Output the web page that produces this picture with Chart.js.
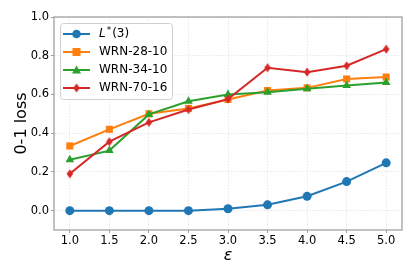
<!DOCTYPE html>
<html lang="en">
<head>
<meta charset="UTF-8">
<title>0-1 loss vs epsilon</title>
<script src="https://cdn.jsdelivr.net/npm/chart.js"></script>
<style>html,body{margin:0;padding:0;background:#fff}</style>
</head>
<body>
<canvas id="myChart" width="415" height="277"></canvas>
<script>
const epsilons = [1.0, 1.5, 2.0, 2.5, 3.0, 3.5, 4.0, 4.5, 5.0];
const lStar   = [0.0, 0.0, 0.0, 0.0, 0.01, 0.03, 0.074, 0.15, 0.247];
const wrn2810 = [0.334, 0.42, 0.50, 0.528, 0.574, 0.62, 0.634, 0.68, 0.69];
const wrn3410 = [0.263, 0.31, 0.497, 0.565, 0.60, 0.612, 0.63, 0.646, 0.662];
const wrn7016 = [0.19, 0.356, 0.456, 0.522, 0.576, 0.738, 0.715, 0.748, 0.834];
const xTicks = [1.0, 1.5, 2.0, 2.5, 3.0, 3.5, 4.0, 4.5, 5.0];
const yTicks = [0.0, 0.2, 0.4, 0.6, 0.8, 1.0];

const FONT = "'DejaVu Sans', sans-serif";

// thin diamond marker like matplotlib 'd'
function thinDiamond(color) {
    const c = document.createElement('canvas');
    c.width = 8; c.height = 10;
    const g = c.getContext('2d');
    g.fillStyle = color;
    g.beginPath();
    g.moveTo(4, 0.5); g.lineTo(7.3, 5); g.lineTo(4, 9.5); g.lineTo(0.7, 5);
    g.closePath();
    g.fill();
    return c;
}
const redDiamond = thinDiamond('#d62728');

function pts(ys) { return epsilons.map((x, i) => ({x: x, y: ys[i]})); }

const series = [
    {label: 'L*(3)', data: lStar, color: '#1f77b4', style: 'circle', r: 4.5, order: 3},
    {label: 'WRN-28-10', data: wrn2810, color: '#ff7f0e', style: 'rect', r: 5, order: 2},
    {label: 'WRN-34-10', data: wrn3410, color: '#2ca02c', style: 'triangle', r: 5, order: 1},
    {label: 'WRN-70-16', data: wrn7016, color: '#d62728', style: redDiamond, r: 4, order: 0}
];

const frameLegend = {
    id: 'frameLegend',
    beforeDatasetsDraw(chart) {
        const {ctx, chartArea: a} = chart;
        ctx.save();
        ctx.strokeStyle = '#a0a0a0';
        ctx.lineWidth = 1.3;
        ctx.strokeRect(a.left, a.top, a.right - a.left, a.bottom - a.top);
        ctx.restore();
    },
    afterDraw(chart) {
        const {ctx, chartArea: a} = chart;
        const bx = a.left + 6, by = a.top + 6, bw = 112, bh = 76;
        ctx.save();
        ctx.fillStyle = 'rgba(255,255,255,0.85)';
        ctx.strokeStyle = '#d0d0d0';
        ctx.lineWidth = 1;
        ctx.beginPath();
        ctx.roundRect(bx + 0.5, by + 0.5, bw, bh, 3);
        ctx.fill();
        ctx.stroke();
        series.forEach((s, i) => {
            const y = by + 11 + i * 18;
            const x0 = bx + 3, x1 = bx + 30, xm = (x0 + x1) / 2;
            ctx.strokeStyle = s.color;
            ctx.fillStyle = s.color;
            ctx.lineWidth = 2;
            ctx.beginPath(); ctx.moveTo(x0, y); ctx.lineTo(x1, y); ctx.stroke();
            ctx.beginPath();
            if (s.style === 'circle') {
                ctx.arc(xm, y, 4.3, 0, Math.PI * 2);
                ctx.fill();
            } else if (s.style === 'rect') {
                ctx.fillRect(xm - 4, y - 4, 8, 8);
            } else if (s.style === 'triangle') {
                ctx.moveTo(xm, y - 4.5); ctx.lineTo(xm + 4.5, y + 3.5); ctx.lineTo(xm - 4.5, y + 3.5);
                ctx.closePath(); ctx.fill();
            } else {
                ctx.drawImage(s.style, xm - 4, y - 5);
            }
            ctx.fillStyle = '#000';
            ctx.textBaseline = 'middle';
            ctx.textAlign = 'left';
            let tx = bx + 39;
            if (i === 0) {
                ctx.font = 'italic 12px ' + FONT;
                ctx.fillText('L', tx, y);
                tx += ctx.measureText('L').width + 1;
                ctx.font = '9px ' + FONT;
                ctx.fillText('*', tx, y - 3);
                tx += ctx.measureText('*').width + 1;
                ctx.font = '12px ' + FONT;
                ctx.fillText('(3)', tx, y);
            } else {
                ctx.font = '12px ' + FONT;
                ctx.fillText(s.label, tx, y);
            }
        });
        ctx.restore();
    }
};

const gridOpts = {color: '#e2e2e2', lineWidth: 0.8, tickLength: 3, tickColor: '#a0a0a0', tickWidth: 1};

new Chart(document.getElementById('myChart').getContext('2d'), {
    type: 'line',
    data: {
        datasets: series.map(s => ({
            label: s.label,
            data: pts(s.data),
            borderColor: s.color,
            backgroundColor: s.color,
            borderWidth: 2,
            pointStyle: s.style,
            pointRadius: s.r,
            pointHoverRadius: s.r,
            pointBorderWidth: 0,
            tension: 0,
            order: s.order,
            clip: false
        }))
    },
    options: {
        responsive: false,
        animation: false,
        layout: {padding: {left: 0, right: 13, top: 17, bottom: 0}},
        plugins: {legend: {display: false}, tooltip: {enabled: false}},
        scales: {
            x: {
                type: 'linear',
                min: 0.8, max: 5.2,
                afterBuildTicks: sc => { sc.ticks = xTicks.map(v => ({value: v})); },
                afterFit: sc => { sc.height = 47; },
                grid: gridOpts,
                border: {display: false, dash: [1.5, 1.5]},
                ticks: {color: '#000', padding: 1, font: {family: FONT, size: 11.5}, maxRotation: 0,
                        callback: v => v.toFixed(1)},
                title: {display: true, text: 'ε', color: '#000', font: {family: FONT, size: 16, style: 'italic'},
                        padding: {top: 1, bottom: 12}}
            },
            y: {
                type: 'linear',
                min: -0.1, max: 1.0,
                afterBuildTicks: sc => { sc.ticks = yTicks.map(v => ({value: v})); },
                afterFit: sc => { sc.width = 54; },
                grid: gridOpts,
                border: {display: false, dash: [1.5, 1.5]},
                ticks: {color: '#000', padding: 2, font: {family: FONT, size: 11.5},
                        callback: v => v.toFixed(1)},
                title: {display: true, text: '0-1 loss', color: '#000', font: {family: FONT, size: 16},
                        padding: {top: 12, bottom: 4}}
            }
        }
    },
    plugins: [frameLegend]
});
</script>
</body>
</html>
